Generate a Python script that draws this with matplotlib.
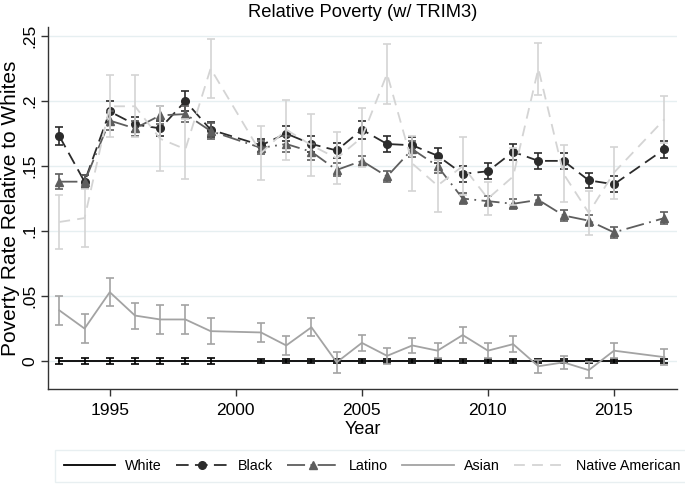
import matplotlib
matplotlib.use("Agg")
import matplotlib.pyplot as plt

plt.rcParams['font.family'] = ['Liberation Sans', 'DejaVu Sans']

years = [1993, 1994, 1995, 1996, 1997, 1998, 1999, 2001, 2002, 2003, 2004, 2005,
         2006, 2007, 2008, 2009, 2010, 2011, 2012, 2013, 2014, 2015, 2017]

white = [0.0] * 23
white_err = [0.0022] * 7 + [0.0016] * 16

black = [0.173, 0.138, 0.192, 0.182, 0.179, 0.200, 0.178, 0.166, 0.175, 0.167, 0.162, 0.178,
         0.167, 0.166, 0.158, 0.144, 0.146, 0.161, 0.154, 0.154, 0.139, 0.136, 0.163]
black_err = [0.007, 0.005, 0.008, 0.006, 0.006, 0.008, 0.006, 0.005, 0.006, 0.006, 0.006, 0.007,
             0.006, 0.006, 0.006, 0.006, 0.006, 0.006, 0.006, 0.006, 0.006, 0.006, 0.0065]

latino = [0.138, 0.138, 0.185, 0.179, 0.189, 0.190, 0.177, 0.164, 0.167, 0.161, 0.147, 0.154,
          0.142, 0.163, 0.150, 0.125, 0.123, 0.121, 0.124, 0.112, 0.108, 0.099, 0.110]
latino_err = [0.006, 0.005, 0.007, 0.006, 0.007, 0.006, 0.006, 0.005, 0.006, 0.006, 0.005, 0.004,
              0.004, 0.006, 0.005, 0.004, 0.004, 0.004, 0.004, 0.004, 0.004, 0.004, 0.0045]

asian = [0.039, 0.025, 0.053, 0.035, 0.032, 0.032, 0.023, 0.022, 0.012, 0.026, -0.001, 0.014,
         0.004, 0.012, 0.008, 0.020, 0.008, 0.013, -0.004, -0.001, -0.007, 0.008, 0.003]
asian_err = [0.011, 0.011, 0.011, 0.010, 0.011, 0.011, 0.010, 0.007, 0.007, 0.007, 0.008, 0.006,
             0.006, 0.006, 0.006, 0.006, 0.006, 0.006, 0.005, 0.005, 0.006, 0.006, 0.006]

native = [0.107, 0.110, 0.196, 0.196, 0.171, 0.163, 0.225, 0.160, 0.178, 0.166, 0.156, 0.172,
          0.221, 0.152, 0.135, 0.150, 0.125, 0.142, 0.225, 0.144, 0.114, 0.145, 0.186]
native_err = [0.021, 0.022, 0.024, 0.024, 0.025, 0.023, 0.023, 0.021, 0.023, 0.024, 0.020, 0.023,
              0.023, 0.021, 0.020, 0.022, 0.013, 0.022, 0.020, 0.022, 0.017, 0.020, 0.018]

yticks = [0, 0.05, 0.1, 0.15, 0.2, 0.25]
ytick_labels = ['0', '.05', '.1', '.15', '.2', '.25']
xticks = [1995, 2000, 2005, 2010, 2015]

fig = plt.figure(figsize=(6.85, 4.88), dpi=100)
ax = fig.add_axes([48 / 685, 1 - 389 / 488, (677 - 48) / 685, (389 - 27) / 488])

for y in yticks:
    ax.axhline(y, color='#e6eff1', lw=1.0, zorder=0)

cap = 2.6
series = [
    (white, white_err, 'White', '#000000', '-', None),
    (black, black_err, 'Black', '#2b2b2b', (0, (7, 3.5)), 'o'),
    (latino, latino_err, 'Latino', '#5e5e5e', (0, (10, 3, 1, 3)), '^'),
    (asian, asian_err, 'Asian', '#a3a3a3', '-', None),
    (native, native_err, 'Native American', '#d4d4d4', (0, (6, 4)), None),
]

handles = []
for i, (vals, errs, name, col, ls, mk) in enumerate(series):
    ax.errorbar(years, vals, yerr=errs, fmt='none', ecolor=col, elinewidth=1.2,
                capsize=cap, capthick=1.2, zorder=2 + i)
    line, = ax.plot(years, vals, color=col, linestyle=ls, lw=1.3, marker=mk,
                    markersize=5.5 if mk == 'o' else 6, zorder=2 + i, label=name)
    handles.append(line)

ax.set_xlim(1992.55, 2017.5)
ax.set_ylim(-0.0215, 0.257)
ax.set_xticks(xticks)
ax.set_xticklabels([str(x) for x in xticks], fontsize=12.5)
ax.set_yticks(yticks)
ax.set_yticklabels(ytick_labels, fontsize=12.5, rotation=90, va='center')
ax.tick_params(axis='x', direction='out', length=5, width=1, color='#333333', pad=5)
ax.tick_params(axis='y', direction='out', length=5, width=1, color='#333333', pad=3)
for s in ['top', 'right']:
    ax.spines[s].set_visible(False)
for s in ['left', 'bottom']:
    ax.spines[s].set_color('#333333')
    ax.spines[s].set_linewidth(1.0)

ax.set_xlabel('Year', fontsize=13, labelpad=2)
ax.set_ylabel('Poverty Rate Relative to Whites', fontsize=15, labelpad=1)
ax.set_title('Relative Poverty (w/ TRIM3)', fontsize=13.2, pad=7)

leg = fig.legend(handles=handles, loc='center', bbox_to_anchor=(372 / 685, 1 - 466 / 488),
                 ncol=5, fontsize=10.3, handlelength=3.6, handletextpad=0.7,
                 columnspacing=1.0, frameon=True, fancybox=False, borderpad=0.6)
leg.get_frame().set_edgecolor('#e3ecee')
leg.get_frame().set_linewidth(1.0)

fig.savefig('out.png', dpi=100)
